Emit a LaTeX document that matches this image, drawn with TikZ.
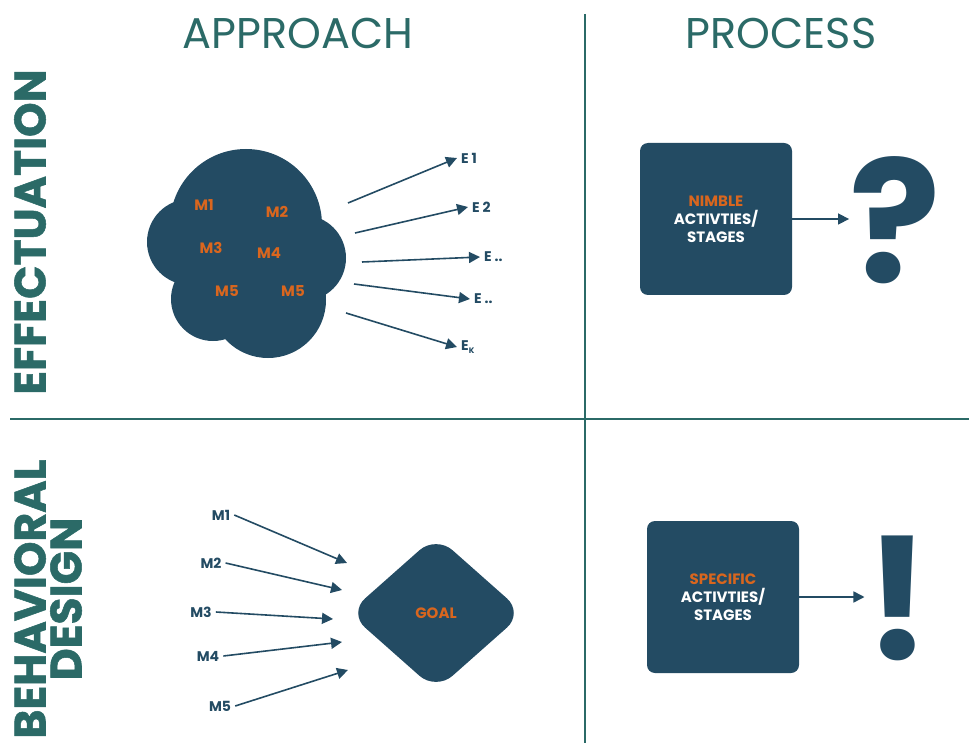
\documentclass[tikz,border=0pt]{standalone}
\usepackage{xcolor}
\usepackage{fontspec}
\setmainfont{Poppins}
\usepackage{tikz}
\usetikzlibrary{positioning,arrows.meta,shapes.geometric}

\definecolor{ink}{HTML}{234B63}
\definecolor{sea}{HTML}{2B6A67}
\definecolor{rust}{HTML}{D9661E}

\begin{document}
\begin{tikzpicture}[
    x=1pt, y=-1pt,
    divider/.style={draw=sea, line width=2.2pt},
    heading/.style={text=sea, font=\fontsize{43}{43}\selectfont},
    side/.style={text=sea, rotate=90, align=center, font=\fontsize{44}{36}\selectfont\bfseries\addfontfeature{FakeBold=1.2}},
    mlabel/.style={text=rust, font=\fontsize{15}{15}\selectfont\bfseries},
    inlabel/.style={text=ink, inner sep=4pt, font=\fontsize{14}{14}\selectfont\bfseries},
    stagebox/.style={rectangle, fill=ink, rounded corners=8pt, minimum width=152pt, minimum height=152pt, text=white, align=center, font=\fontsize{15}{18}\selectfont\bfseries},
    goalbox/.style={diamond, fill=ink, rounded corners=22pt, minimum width=175pt, minimum height=155pt, text=rust, font=\fontsize{15}{15}\selectfont\bfseries},
    sign/.style={text=ink, inner sep=0pt, font=\fontsize{170}{170}\selectfont\bfseries},
    arrow/.style={-{Triangle[length=11pt,width=11pt]}, draw=ink, line width=1.6pt}
]
\useasboundingbox (0,0) rectangle (969,743);

% Grid
\draw[divider] (585,14) -- (585,743);
\draw[divider] (10,419) -- (969,419);

% Headings
\node[heading] (approach) at (298,33) {APPROACH};
\node[heading] (process) at (781,33) {PROCESS};
\node[side] (effect) at (30,232) {EFFECTUATION};
\node[side] (behave) at (48,599) {BEHAVIORAL\\DESIGN};

% Cloud of means
\fill[ink] (246,225) circle (76pt) (190,242) circle (43pt) (303,258) circle (43pt)
           (213,299) circle (42pt) (268,300) circle (58pt);
\node[mlabel] (cm1) at (204,205) {M1};
\node[mlabel] (cm2) at (277,212) {M2};
\node[mlabel] (cm3) at (211,248) {M3};
\node[mlabel] (cm4) at (269,253) {M4};
\node[mlabel] (cm5) at (227,291) {M5};
\node[mlabel] (cm6) at (293,291) {M5};

% Effects
\node[inlabel, anchor=west] (e1) at (457,158) {E 1};
\node[inlabel, anchor=west] (e2) at (468,207) {E 2};
\node[inlabel, anchor=west] (e3) at (480,257) {E ..};
\node[inlabel, anchor=west] (e4) at (470,299) {E ..};
\node[inlabel, anchor=west] (e5) at (457,347) {E\raisebox{-3pt}{\fontsize{8}{8}\selectfont K}};

\coordinate (c1) at (348,203);
\coordinate (c2) at (355,233);
\coordinate (c3) at (362,262);
\coordinate (c4) at (354,284);
\coordinate (c5) at (346,313);

\draw[arrow] (c1) -- (e1.west);
\draw[arrow] (c2) -- (e2.west);
\draw[arrow] (c3) -- (e3.west);
\draw[arrow] (c4) -- (e4.west);
\draw[arrow] (c5) -- (e5.west);

% Goal
\node[goalbox] (goal) at (436,613) {GOAL};

\node[inlabel] (m1) at (221,515) {M1};
\node[inlabel] (m2) at (211,563) {M2};
\node[inlabel] (m3) at (201,612) {M3};
\node[inlabel] (m4) at (208,656) {M4};
\node[inlabel] (m5) at (220,706) {M5};

\coordinate (g1) at (347,563);
\coordinate (g2) at (342,590);
\coordinate (g3) at (333,619);
\coordinate (g4) at (342,642);
\coordinate (g5) at (348,670);

\draw[arrow] (m1.east) -- (g1);
\draw[arrow] (m2.east) -- (g2);
\draw[arrow] (m3.east) -- (g3);
\draw[arrow] (m4.east) -- (g4);
\draw[arrow] (m5.east) -- (g5);

% Process boxes
\node[stagebox] (nimble) at (716,219) {\textcolor{rust}{NIMBLE}\\ACTIVTIES/\\STAGES};
\node[sign] (query) at (895,220) {?};
\draw[arrow] (nimble.east) -- (nimble.east -| query.west);

\node[stagebox] (specific) at (723,597) {\textcolor{rust}{SPECIFIC}\\ACTIVTIES/\\STAGES};
\node[sign] (bang) at (898,598) {!};
\draw[arrow] (specific.east) -- (specific.east -| bang.west);

\end{tikzpicture}
\end{document}
